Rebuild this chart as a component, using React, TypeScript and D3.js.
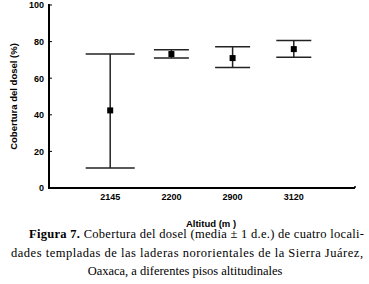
import * as d3 from "d3";
import React from "react";

const altitudes = ["2145", "2200", "2900", "3120"];
const means = [42.4, 73.2, 71.0, 75.9];
const upper = [73.2, 75.5, 77.2, 80.6];
const lower = [10.9, 71.0, 65.9, 71.4];
const yTicks = [0, 20, 40, 60, 80, 100];

const captionLines = [
  "Cobertura del dosel (media ± 1 d.e.) de cuatro locali-",
  "dades templadas de las laderas nororientales de la Sierra Juárez,",
  "Oaxaca, a diferentes pisos altitudinales",
];

const W = 369;
const H = 284;
const left = 49;
const right = 355;
const top = 5;
const bottom = 188;

export default function App() {
  const x = d3.scalePoint<string>().domain(altitudes).range([left, right]).padding(1);
  const y = d3.scaleLinear().domain([0, 100]).range([bottom, top]);
  const sans = "Liberation Sans, Arial, sans-serif";
  const serif = "Liberation Serif, Times New Roman, Times, DejaVu Serif, serif";
  const stroke = "#222";

  return (
    <div style={{ position: "absolute", left: 0, top: 0, background: "#fff" }}>
      <svg width={W} height={H} viewBox={`0 0 ${W} ${H}`}>
        <rect width={W} height={H} fill="#fff" />
        {/* axes */}
        <line x1={left} x2={left} y1={top - 1} y2={bottom} stroke="#000" strokeWidth={2} />
        <line x1={left - 1} x2={right} y1={bottom} y2={bottom} stroke="#000" strokeWidth={2} />
        <line x1={right} x2={right} y1={bottom - 2} y2={bottom} stroke="#000" strokeWidth={1.5} />
        {yTicks.map((t) => (
          <g key={t}>
            <line x1={left} x2={left + 3} y1={y(t)} y2={y(t)} stroke="#000" strokeWidth={1} />
            <text
              x={left - 5}
              y={y(t) + 3.3}
              textAnchor="end"
              fontFamily={sans}
              fontWeight="bold"
              fontSize={9}
              fill="#000"
            >
              {t}
            </text>
          </g>
        ))}
        {altitudes.map((a) => (
          <text
            key={a}
            x={x(a)}
            y={200}
            textAnchor="middle"
            fontFamily={sans}
            fontWeight="bold"
            fontSize={9}
            fill="#000"
          >
            {a}
          </text>
        ))}
        <text
          x={211}
          y={226.5}
          textAnchor="middle"
          fontFamily={sans}
          fontWeight="bold"
          fontSize={9.5}
          fill="#000"
        >
          Altitud (m )
        </text>
        <text
          transform={`translate(17,${(top + bottom) / 2}) rotate(-90)`}
          textAnchor="middle"
          fontFamily={sans}
          fontWeight="bold"
          fontSize={9.5}
          fill="#000"
        >
          Cobertura del dosel (%)
        </text>
        {/* error bars */}
        {altitudes.map((a, i) => {
          const cx = x(a) as number;
          const hw = i === 0 ? 24.5 : 17.5;
          return (
            <g key={a}>
              <line x1={cx} x2={cx} y1={y(upper[i])} y2={y(lower[i])} stroke={stroke} strokeWidth={1.5} />
              <line x1={cx - hw} x2={cx + hw} y1={y(upper[i])} y2={y(upper[i])} stroke={stroke} strokeWidth={1.5} />
              <line x1={cx - hw} x2={cx + hw} y1={y(lower[i])} y2={y(lower[i])} stroke={stroke} strokeWidth={1.5} />
              <rect x={cx - 3} y={y(means[i]) - 3} width={6} height={6} fill="#000" />
            </g>
          );
        })}
        {/* caption */}
        <g fontFamily={serif} fontSize={12.5} fill="#000">
          <text x={29} y={238} textLength={335} lengthAdjust="spacing">
            <tspan fontWeight="bold">Figura 7.</tspan> {captionLines[0]}
          </text>
          <text x={11} y={257} textLength={352} lengthAdjust="spacing">
            {captionLines[1]}
          </text>
          <text x={185} y={275} textAnchor="middle">
            {captionLines[2]}
          </text>
        </g>
      </svg>
    </div>
  );
}
